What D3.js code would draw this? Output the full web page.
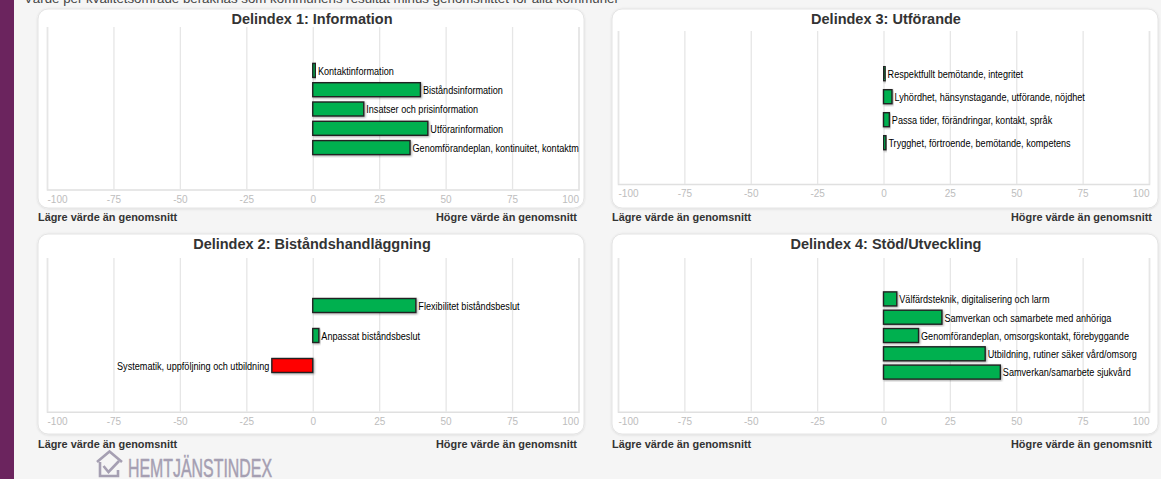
<!DOCTYPE html>
<html lang="sv">
<head>
<meta charset="utf-8">
<title>Delindex</title>
<script src="https://cdn.jsdelivr.net/npm/d3@7"></script>
<style>
  html, body { margin: 0; padding: 0; background: #f5f5f5; overflow: hidden; }
  svg { display: block; font-family: "Liberation Sans", Arial, sans-serif; }
</style>
</head>
<body>
<svg id="chart" width="1161" height="479"></svg>
<script>
const axisTicks = [-100, -75, -50, -25, 0, 25, 50, 75, 100];
const lowerLabel = 'Lägre värde än genomsnitt';
const higherLabel = 'Högre värde än genomsnitt';
const introText = 'Värde per kvalitetsområde beräknas som kommunens resultat minus genomsnittet för alla kommuner';
const logoText = 'HEMTJÄNSTINDEX';

const titles = ['Delindex 1: Information', 'Delindex 2: Biståndshandläggning', 'Delindex 3: Utförande', 'Delindex 4: Stöd/Utveckling'];

const categories1 = ['Kontaktinformation', 'Biståndsinformation', 'Insatser och prisinformation', 'Utförarinformation', 'Genomförandeplan, kontinuitet, kontaktm'];
const values1 = [1, 40.5, 19.2, 43.3, 36.6];

const categories2 = ['Flexibilitet biståndsbeslut', 'Anpassat biståndsbeslut', 'Systematik, uppföljning och utbildning'];
const values2 = [38.8, 2.3, -15.4];

const categories3 = ['Respektfullt bemötande, integritet', 'Lyhördhet, hänsynstagande, utförande, nöjdhet', 'Passa tider, förändringar, kontakt, språk', 'Trygghet, förtroende, bemötande, kompetens'];
const values3 = [0.6, 3.2, 2.2, 0.9];

const categories4 = ['Välfärdsteknik, digitalisering och larm', 'Samverkan och samarbete med anhöriga', 'Genomförandeplan, omsorgskontakt, förebyggande', 'Utbildning, rutiner säker vård/omsorg', 'Samverkan/samarbete sjukvård'];
const values4 = [5, 22, 13.2, 38.3, 44];

// card box, plot box and row spacing for each panel
const panels = [
  { title: titles[0], cats: categories1, vals: values1, card: [38, 9, 546, 199], plot: [47, 27, 578.5, 189.5], step: 19.3, cy: 109, titleY: 24, noteY: 220.5, noteX: [38, 577] },
  { title: titles[1], cats: categories2, vals: values2, card: [38, 234, 546, 200], plot: [47, 258, 578.5, 411.7], step: 30, cy: 335.5, titleY: 249, noteY: 447.5, noteX: [38, 577] },
  { title: titles[2], cats: categories3, vals: values3, card: [612, 9, 546, 199], plot: [618, 31, 1149, 184], step: 23, cy: 108.2, titleY: 24, noteY: 220.5, noteX: [612, 1152] },
  { title: titles[3], cats: categories4, vals: values4, card: [612, 234, 546, 200], plot: [618, 258, 1149, 411.7], step: 18.3, cy: 335.5, titleY: 249, noteY: 447.5, noteX: [612, 1152] },
];

const barHeight = 14;
const labelSqueeze = 0.91; // the screenshot's hinted Arial runs narrower than Liberation
const svg = d3.select('#chart');

const defs = svg.append('defs');
const cardShadow = defs.append('filter').attr('id', 'card-shadow').attr('x', '-2%').attr('y', '-2%').attr('width', '104%').attr('height', '104%');
cardShadow.append('feDropShadow').attr('dx', 0).attr('dy', 0.5).attr('stdDeviation', 1).attr('flood-color', '#000').attr('flood-opacity', 0.12);
const barShadow = defs.append('filter').attr('id', 'bar-shadow').attr('x', '-20%').attr('y', '-20%').attr('width', '140%').attr('height', '140%');
barShadow.append('feDropShadow').attr('dx', 1).attr('dy', 1).attr('stdDeviation', 0.8).attr('flood-color', '#000').attr('flood-opacity', 0.35);

// page chrome
svg.append('rect').attr('width', 14).attr('height', 479).attr('fill', '#6b245e');
svg.append('text').attr('x', 24).attr('y', 3).attr('font-size', 13.3).attr('fill', '#444').text(introText);

function drawPanel(p, i) {
  const g = svg.append('g').attr('class', 'panel');
  const [cx, cy, cw, ch] = p.card;
  const [left, top, right, bottom] = p.plot;

  g.append('rect').attr('x', cx).attr('y', cy).attr('width', cw).attr('height', ch)
    .attr('rx', 10).attr('fill', '#fff').attr('stroke', '#e4e4e4').attr('filter', 'url(#card-shadow)');

  g.append('text').attr('x', cx + cw / 2 + 1).attr('y', p.titleY)
    .attr('text-anchor', 'middle').attr('font-size', 14.5).attr('font-weight', 'bold').attr('fill', '#333')
    .text(p.title);

  const x = d3.scaleLinear().domain([-100, 100]).range([left, right]);
  const n = p.cats.length;
  const y = d3.scaleBand().domain(p.cats).range([p.cy - n * p.step / 2, p.cy + n * p.step / 2]);

  const axis = g.append('g').attr('transform', `translate(0,${bottom})`)
    .call(d3.axisBottom(x).tickValues(axisTicks).tickSize(-(bottom - top)).tickPadding(6).tickFormat((d) => String(d)));
  axis.select('.domain').attr('stroke', '#e0e0e0').attr('stroke-width', 1.5);
  axis.selectAll('.tick line').attr('stroke', '#e6e6e6').attr('stroke-width', 1.3);
  axis.selectAll('.tick text')
    .attr('font-size', 10).attr('font-family', '"Liberation Sans", Arial, sans-serif').attr('fill', '#bdbdbd')
    .attr('text-anchor', (d) => (d === -100 ? 'start' : d === 100 ? 'end' : 'middle'));

  const rows = p.cats.map((c, j) => ({ cat: c, val: p.vals[j] }));

  g.selectAll('rect.bar').data(rows).join('rect').attr('class', 'bar')
    .attr('x', (d) => Math.min(x(0), x(d.val)))
    .attr('y', (d) => y(d.cat) + (y.bandwidth() - barHeight) / 2)
    .attr('width', (d) => Math.abs(x(d.val) - x(0)))
    .attr('height', barHeight)
    .attr('fill', (d) => (d.val < 0 ? '#ff0000' : '#00b050'))
    .attr('stroke', '#222').attr('stroke-width', 1.4)
    .attr('filter', 'url(#bar-shadow)');

  g.append('g')
    .selectAll('text').data(rows).join('text')
    .attr('x', (d) => (d.val < 0 ? x(d.val) - 2.5 : x(d.val) + 2.5))
    .attr('y', (d) => y(d.cat) + y.bandwidth() / 2 + 4.3)
    .attr('text-anchor', (d) => (d.val < 0 ? 'end' : 'start'))
    .attr('font-size', 10).attr('fill', '#000')
    .text((d) => d.cat)
    .each(function () {
      d3.select(this).attr('textLength', this.getComputedTextLength() * labelSqueeze).attr('lengthAdjust', 'spacingAndGlyphs');
    });

  g.append('text').attr('x', p.noteX[0]).attr('y', p.noteY)
    .attr('font-size', 10.9).attr('font-weight', 'bold').attr('fill', '#333').text(lowerLabel);
  g.append('text').attr('x', p.noteX[1]).attr('y', p.noteY).attr('text-anchor', 'end')
    .attr('font-size', 10.9).attr('font-weight', 'bold').attr('fill', '#333').text(higherLabel);
}

panels.forEach(drawPanel);

// logo at the bottom left
const logo = svg.append('g').attr('fill', 'none').attr('stroke', '#a59fb2').attr('stroke-width', 2.6);
logo.append('path').attr('d', 'M97 462 L109.5 451.5 L122 462');
logo.append('path').attr('d', 'M100 462 V476 H118 V470');
logo.append('path').attr('d', 'M103.5 466 L108.5 472 L119 461');
svg.append('text').attr('x', 128).attr('y', 476.5).attr('font-size', 25)
  .attr('font-family', '"Liberation Sans Narrow", "Liberation Sans", sans-serif')
  .attr('fill', '#a59fb2').attr('stroke', '#a59fb2').attr('stroke-width', 0.5)
  .attr('textLength', 144).attr('lengthAdjust', 'spacingAndGlyphs').text(logoText);
</script>
</body>
</html>
